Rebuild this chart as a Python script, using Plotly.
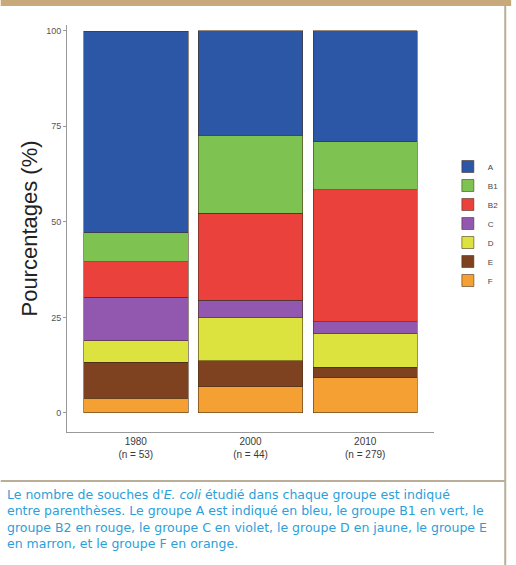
import plotly.graph_objects as go

categories = ["1980<br>(n = 53)", "2000<br>(n = 44)", "2010<br>(n = 279)"]
groups = ["F", "E", "D", "C", "B2", "B1", "A"]
values = {
    "A":  [52.8, 27.3, 29.0],
    "B1": [7.5, 20.5, 12.6],
    "B2": [9.4, 22.7, 34.5],
    "C":  [11.3, 4.5, 3.0],
    "D":  [5.7, 11.4, 8.9],
    "E":  [9.4, 6.8, 2.8],
    "F":  [3.8, 6.8, 9.2],
}
colors = {
    "A": "#2C57A6",
    "B1": "#7EC352",
    "B2": "#EA413D",
    "C": "#9257AE",
    "D": "#DCE23E",
    "E": "#7E4220",
    "F": "#F4A033",
}
y_ticks = [0, 25, 50, 75, 100]
caption = ("Le nombre de souches d'<i>E. coli</i> étudié dans chaque groupe est indiqué<br>"
           "entre parenthèses. Le groupe A est indiqué en bleu, le groupe B1 en vert, le<br>"
           "groupe B2 en rouge, le groupe C en violet, le groupe D en jaune, le groupe E<br>"
           "en marron, et le groupe F en orange.")

fig = go.Figure()
for g in groups:
    fig.add_trace(go.Bar(
        x=categories, y=values[g], name=g,
        marker=dict(color=colors[g], line=dict(color="rgba(70,45,25,0.7)", width=0.8)),
        width=0.91,
    ))

W, H = 516, 565
L, R, T, B = 67, 78, 25, 133
pw, ph = W - L - R, H - T - B

def px(x):
    return (x - L) / pw

def py(y):
    return (H - B - y) / ph

fig.update_layout(
    width=W, height=H,
    margin=dict(l=L, r=R, t=T, b=B),
    barmode="stack",
    paper_bgcolor="white",
    plot_bgcolor="white",
    font=dict(family="Liberation Sans, Arial, sans-serif", color="#333"),
    showlegend=True,
    legend=dict(
        x=px(452), y=py(152), xanchor="left", yanchor="top",
        traceorder="reversed",
        font=dict(size=8, color="#444"),
        itemwidth=30, tracegroupgap=0,
        bgcolor="rgba(0,0,0,0)",
    ),
    xaxis=dict(
        range=[-0.6, 2.6],
        showline=True, linecolor="#999", linewidth=1,
        ticks="", tickfont=dict(size=10, color="#3a3a3a"),
        showgrid=False, zeroline=False,
    ),
    yaxis=dict(
        range=[-5, 101.5],
        tickvals=y_ticks,
        showline=True, linecolor="#999", linewidth=1,
        ticks="outside", ticklen=3, tickcolor="#999",
        tickfont=dict(size=9, color="#555"),
        showgrid=False, zeroline=False,
        title=dict(text="Pourcentages (%)", font=dict(size=22, color="#222"), standoff=2),
    ),
    shapes=[
        dict(type="rect", xref="paper", yref="paper",
             x0=px(0), x1=px(W), y0=py(6), y1=py(0),
             fillcolor="#C8AA7A", line=dict(width=0)),
        dict(type="line", xref="paper", yref="paper",
             x0=px(510), x1=px(510), y0=py(H), y1=py(6),
             line=dict(color="#BBAE98", width=2)),
        dict(type="line", xref="paper", yref="paper",
             x0=px(0), x1=px(510), y0=py(481), y1=py(481),
             line=dict(color="#BBAE98", width=2)),
    ],
    annotations=[
        dict(text=caption, xref="paper", yref="paper",
             x=px(4), y=py(485), xanchor="left", yanchor="top",
             align="left", showarrow=False,
             font=dict(family="DejaVu Sans, sans-serif", size=12.5, color="#2AA0DA")),
    ],
)

fig.write_html(
    "out.html",
    config={"displayModeBar": False},
    post_script=("document.body.style.margin='0px';"
                 "document.body.style.overflow='hidden';"
                 "document.documentElement.style.overflow='hidden';"),
)
